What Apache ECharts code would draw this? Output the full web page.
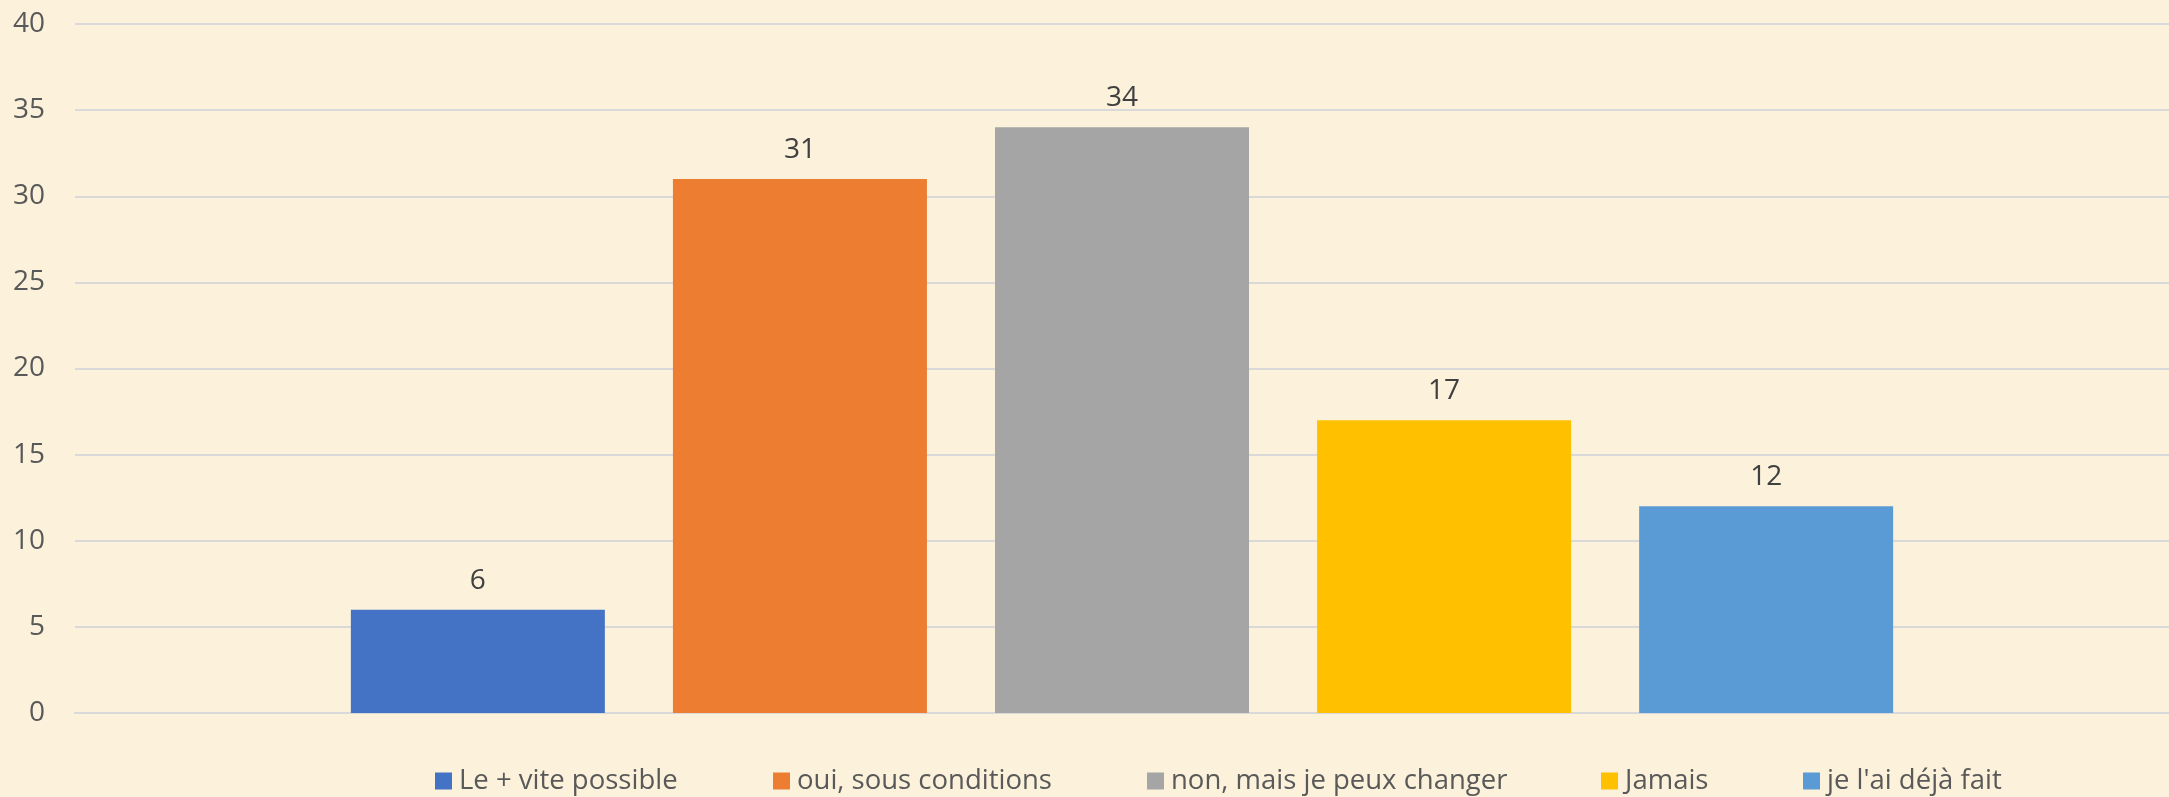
<!DOCTYPE html>
<html>
<head>
<meta charset="utf-8">
<script src="https://cdn.jsdelivr.net/npm/echarts@6/dist/echarts.min.js"></script>
<style>
  html, body { margin: 0; padding: 0; background: #FCF2DB; }
  #chart { width: 2169px; height: 797px; }
</style>
</head>
<body>
<div id="chart"></div>
<script>
const categories = [''];
const seriesNames = ['Le + vite possible', 'oui, sous conditions', 'non, mais je peux changer', 'Jamais', "je l'ai déjà fait"];
const seriesValues = [6, 31, 34, 17, 12];
const seriesColors = ['#4472C4', '#ED7D31', '#A5A5A5', '#FFC000', '#5B9BD5'];
const yMin = 0, yMax = 40, yStep = 5;
const legendLefts = [435, 773, 1147, 1601, 1803];

const chart = echarts.init(document.getElementById('chart'), null, { renderer: 'canvas' });

const series = seriesNames.map((name, i) => ({
  name: name,
  type: 'bar',
  data: [seriesValues[i]],
  barWidth: 254,
  barGap: '26.8%',
  itemStyle: { color: seriesColors[i] },
  label: {
    show: true,
    position: 'top',
    distance: 15,
    color: '#404040',
    fontFamily: 'Open Sans',
    fontSize: 28
  }
}));

const legends = seriesNames.map((name, i) => ({
  data: [name],
  left: legendLefts[i],
  top: 767,
  padding: 0,
  icon: 'rect',
  itemWidth: 17,
  itemHeight: 17,
  textStyle: {
    color: '#595959',
    fontFamily: 'Open Sans',
    fontSize: 27.5,
    padding: [0, 0, 0, 2]
  }
}));

chart.setOption({
  backgroundColor: '#FCF2DB',
  animation: false,
  grid: { left: 75, right: 0, top: 24, bottom: 84, containLabel: false },
  legend: legends,
  xAxis: {
    type: 'category',
    data: categories,
    axisLine: { show: true, lineStyle: { color: '#D9D9D9', width: 2 } },
    axisTick: { show: false },
    axisLabel: { show: false }
  },
  yAxis: {
    type: 'value',
    min: yMin,
    max: yMax,
    interval: yStep,
    axisLine: { show: false },
    axisTick: { show: false },
    axisLabel: {
      color: '#595959',
      fontFamily: 'Open Sans',
      fontSize: 28,
      margin: 30
    },
    splitLine: { lineStyle: { color: '#D9D9D9', width: 2 } }
  },
  series: series
});
</script>
</body>
</html>
